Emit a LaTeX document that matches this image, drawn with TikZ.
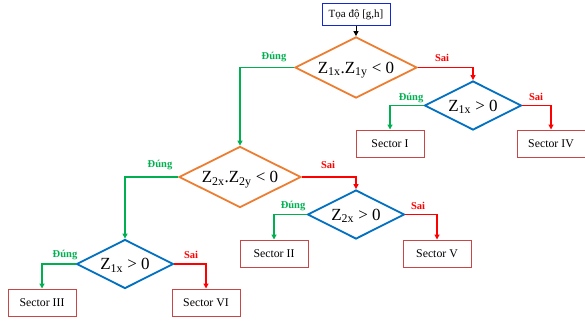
\documentclass[tikz,border=0pt]{standalone}
\usepackage{fontspec}
\setmainfont{Liberation Serif}
\usetikzlibrary{shapes.geometric,arrows.meta}
\definecolor{cOrange}{RGB}{237,125,49}
\definecolor{cBlue}{RGB}{0,112,192}
\definecolor{cGreen}{RGB}{0,176,80}
\definecolor{cRed}{RGB}{255,0,0}
\definecolor{cBox}{RGB}{200,70,70}
\definecolor{cStart}{RGB}{20,40,210}
\newcommand{\ztext}[1]{\smash{\makebox[0pt]{\raisebox{-0.33em}{#1}}}}
\begin{document}
\begin{tikzpicture}[x=1pt,y=-1pt,
  startbox/.style={draw=cStart,line width=1pt,minimum width=68pt,minimum height=22pt,inner sep=0pt,font=\fontsize{11}{12}\selectfont},
  sectorbox/.style={draw=cBox,line width=1pt,minimum width=68pt,minimum height=27pt,inner sep=0pt,font=\fontsize{11.8}{13}\selectfont},
  bigdia/.style={shape=diamond,draw=cOrange,line width=1.8pt,minimum width=122pt,minimum height=61pt,inner sep=0pt,font=\fontsize{17}{18}\selectfont},
  smalldia/.style={shape=diamond,draw=cBlue,line width=1.8pt,minimum width=97pt,minimum height=49pt,inner sep=0pt,font=\fontsize{17}{18}\selectfont},
  yesline/.style={draw=cGreen,line width=1.2pt,-{Triangle[length=5pt,width=5pt]}},
  noline/.style={draw=cRed,line width=1.2pt,-{Triangle[length=5pt,width=5pt]}},
  yeslbl/.style={text=cGreen,font=\fontsize{10.5}{12}\selectfont\bfseries,inner sep=0pt},
  nolbl/.style={text=cRed,font=\fontsize{10.5}{12}\selectfont\bfseries,inner sep=0pt}]
\useasboundingbox (0,0) rectangle (585,321);
% nodes
\node[startbox] (start) at (356,15) {Tọa độ [g,h]};
\node[bigdia] (d1) at (356,67.5) {\ztext{Z\textsubscript{1x}.Z\textsubscript{1y} < 0}};
\node[smalldia] (d2) at (473,105.5) {\ztext{Z\textsubscript{1x} > 0}};
\node[bigdia] (d3) at (240,177) {\ztext{Z\textsubscript{2x}.Z\textsubscript{2y} < 0}};
\node[smalldia] (d4) at (125,264) {\ztext{Z\textsubscript{1x} > 0}};
\node[smalldia] (d5) at (356,214.5) {\ztext{Z\textsubscript{2x} > 0}};
\node[sectorbox] (s1) at (390,143.5) {Sector I};
\node[sectorbox] (s4) at (551,143.5) {Sector IV};
\node[sectorbox] (s2) at (274,253.5) {Sector II};
\node[sectorbox] (s5) at (437,253.5) {Sector V};
\node[sectorbox] (s3) at (42,302.5) {Sector III};
\node[sectorbox] (s6) at (206,302.5) {Sector VI};
% connectors
\draw[line width=1pt,-{Triangle[length=5pt,width=5pt]}] (start.south) -- (d1.north);
\draw[yesline] (d1.west) -| (d3.north);
\draw[noline] (d1.east) -| (d2.north);
\draw[yesline] (d2.west) -| (s1.north);
\draw[noline] (d2.east) -| (s4.north);
\draw[yesline] (d3.west) -| (d4.north);
\draw[noline] (d3.east) -| (d5.north);
\draw[yesline] (d5.west) -| (s2.north);
\draw[noline] (d5.east) -| (s5.north);
\draw[yesline] (d4.west) -| (s3.north);
\draw[noline] (d4.east) -| (s6.north);
% labels
\node[yeslbl] (l1y) at (274,57) {Đúng};
\node[nolbl] (l1n) at (442,58) {Sai};
\node[yeslbl] (l2y) at (411,98) {Đúng};
\node[nolbl] (l2n) at (536,97) {Sai};
\node[yeslbl] (l3y) at (160,165) {Đúng};
\node[nolbl] (l3n) at (328,165) {Sai};
\node[yeslbl] (l5y) at (293,206) {Đúng};
\node[nolbl] (l5n) at (418,206) {Sai};
\node[yeslbl] (l4y) at (65,255) {Đúng};
\node[nolbl] (l4n) at (191,255) {Sai};
\end{tikzpicture}
\end{document}
